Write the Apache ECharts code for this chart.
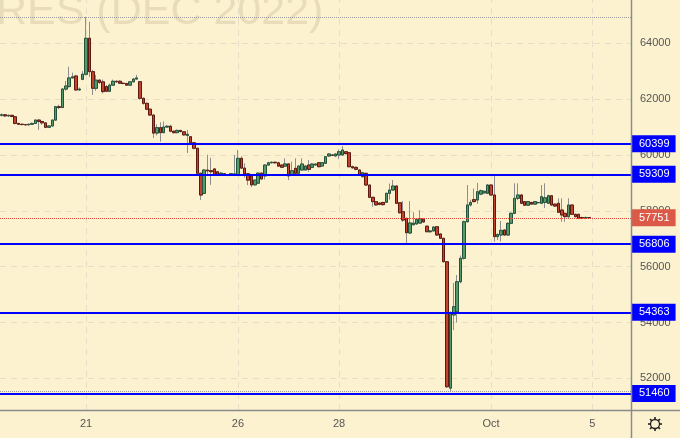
<!DOCTYPE html>
<html><head><meta charset="utf-8">
<script src="https://cdn.jsdelivr.net/npm/echarts@6/dist/echarts.min.js"></script>
<style>html,body{margin:0;padding:0;background:#fdf2d0}#c{width:680px;height:438px}</style>
</head><body><div id="c"></div>
<script>
// ---- data ----
const categoryCount = 187;
const dayLabelIndex = [25, 70, 100, 145, 175];
const dayLabelText = ['21', '26', '28', 'Oct', '5'];
const yTicks = [52000, 54000, 56000, 58000, 60000, 62000, 64000];
const yRange = [50866, 65551];
const levels = [60399, 59309, 56806, 54363, 51460];
const watermark = 'RES (DEC 2022)';

const opens = [61420,61440,61400,61420,61370,61130,61100,61090,61080,61100,61130,61250,61200,61150,60990,61040,61250,61730,61700,62360,
62450,62760,62830,62330,62710,62890,64180,62985,62390,62680,62620,62450,62280,62500,62640,62640,62570,62560,62500,62620,
62720,62625,62030,61850,61640,61430,60785,60980,60800,61000,61030,60850,60800,60880,60830,60700,60655,60440,60240,59345,
58625,59460,59440,59500,59400,59320,59330,59290,59270,59310,59290,59880,59530,59330,59250,58930,58990,59350,59250,59640,
59720,59740,59720,59640,59600,59680,59283,59522,59343,59462,59462,59640,59558,59640,59723,59605,59702,59963,60000,59963,
59999,59999,60117,60081,59580,59558,59462,59222,59343,58924,58484,58326,58280,58300,58305,58627,58745,58889,58290,57968,
57731,57205,57500,57530,57560,57700,57450,57250,57280,57430,57170,57015,56177,51650,54270,54385,55460,56300,57610,58210,
58400,58387,58600,58640,58627,58924,58567,57075,57133,57313,57133,57552,57910,58448,58567,58330,58200,58300,58240,58290,
58269,58300,58269,58541,58240,58269,58029,57910,57789,58208,57875,57875,57760,57740,57760];
const closes = [61440,61400,61420,61380,61130,61100,61090,61080,61100,61130,61250,61200,61150,60990,61040,61250,61730,61700,62360,62470,
62760,62800,62330,62360,62890,64180,62985,62390,62680,62600,62270,62280,62500,62640,62620,62570,62560,62500,62620,62720,
62760,62030,61850,61640,61430,60785,60980,60800,61000,61030,60850,60800,60880,60840,60720,60740,60440,60240,59345,58565,
59460,59430,59400,59290,59290,59350,59270,59270,59330,59320,59880,59530,59330,59100,58930,59100,59350,59140,59640,59720,
59740,59720,59600,59560,59680,59250,59437,59343,59605,59677,59605,59487,59677,59677,59580,59723,59938,60035,59990,60035,
60117,60178,60050,59580,59540,59487,59283,59365,58924,58484,58330,58212,58230,58220,58627,58745,58889,58269,57932,57670,
57216,57565,57560,57700,57720,57600,57252,57280,57420,57133,57015,56177,51700,54330,54565,55460,56300,57610,58210,58300,
58330,58684,58720,58700,58924,58567,57075,57150,57300,57133,57552,57910,58448,58567,58269,58200,58330,58240,58330,58300,
58505,58470,58541,58208,58170,57946,57850,57790,58208,57875,57790,57731,57740,57760,57751];
const lows = [61380,61370,61360,61350,61100,61070,61060,61050,61060,61080,61110,60900,61080,60960,60970,61010,61230,61640,61680,62300,
62420,62740,62300,62300,62680,62850,62800,62150,62300,62540,62200,62250,62250,62470,62590,62540,62530,62470,62480,62600,
62690,61980,61800,61600,61400,60610,60700,60475,60780,60980,60820,60770,60780,60800,60690,60070,60400,60200,59300,58390,
58600,59300,58930,59260,59260,59300,59250,59240,59250,59290,59270,59500,59190,58920,58850,58910,58970,59120,59120,59620,
59700,59690,59580,59540,59580,59100,59260,59320,59320,59440,59440,59400,59540,59620,59560,59590,59690,59940,59970,59940,
59850,59980,60020,59560,59500,59450,59260,59200,58900,58450,58147,58180,58200,58190,58290,58400,58720,58240,57900,57600,
56836,57170,57480,57500,57540,57580,57230,57220,57260,57110,56990,56150,51650,51547,53730,54000,55400,56250,57580,58150,
58300,58250,58560,58620,58600,58540,56894,56950,56900,57100,57100,57520,57880,58380,58240,58170,58180,58210,58220,58260,
58240,58100,58250,58180,58150,57920,57610,57610,57760,57850,57760,57700,57720,57720,57730];
const highs = [61490,61470,61450,61440,61400,61150,61120,61110,61130,61160,61280,61290,61220,61170,61060,61270,61760,61800,62400,62650,
63160,62950,62870,62420,63000,64950,64775,63050,62870,62720,62700,62500,62560,62700,62670,62680,62600,62590,62650,62760,
62870,62650,62060,61880,61660,61450,61100,61170,61200,61060,61080,60880,60910,60900,60860,60895,60680,60460,60260,59360,
59500,60010,59900,59520,59420,59380,59350,59310,59350,60000,60180,59950,59700,59350,59270,59120,59380,59370,59660,59760,
59770,59760,59760,59660,59880,59700,59760,59880,59630,59880,59630,59820,59700,59700,59740,59740,59960,60060,60020,60060,
60200,60321,60140,60100,59620,59580,59480,59400,59360,58940,58500,58340,58300,58320,58650,58980,59103,58900,58310,58350,
57750,58350,57950,57720,58020,57720,57470,57300,57440,57450,57190,57030,56200,54400,55415,55700,56400,57650,58924,58400,
58800,59000,58760,58720,58960,58950,59309,57200,57640,57340,57580,57940,58985,58985,58600,58350,58350,58320,58350,58320,
58924,58985,58580,58560,58260,58448,58448,57930,58448,58230,57900,57890,57790,57800,57770];

// ---- build ----
const categories = [];
for (let i = 0; i < categoryCount; i++) {
  const k = dayLabelIndex.indexOf(i);
  categories.push(k >= 0 ? dayLabelText[k] : '');
}
const candleData = opens.map((o, i) => [o, closes[i], lows[i], highs[i]]);
const bodyData = opens.map((o, i) => [o, closes[i], Math.min(o, closes[i]), Math.max(o, closes[i])]);
const lastClose = closes[closes.length - 1];
const hiVal = Math.max(...highs), loVal = Math.min(...lows);

const FONT = 'Liberation Sans, Arial, sans-serif';
const BLUE = '#0000ff';
const tagLabel = (bg) => ({
  show: true, position: 'end', distance: 0, formatter: p => String(p.value),
  color: '#fff', backgroundColor: bg, padding: [3, 6, 2, 8], fontSize: 11, lineHeight: 12, fontFamily: FONT
});

const chart = echarts.init(document.getElementById('c'), null, {renderer: 'canvas'});
const gear = [];
for (let k = 0; k < 8; k++) {
  const a = k * Math.PI / 4;
  gear.push({type: 'line', shape: {x1: 655 + Math.cos(a) * 4.5, y1: 424 + Math.sin(a) * 4.5, x2: 655 + Math.cos(a) * 7, y2: 424 + Math.sin(a) * 7},
    style: {stroke: '#222', lineWidth: 1.6}, silent: true, z: 50});
}
chart.setOption({
  animation: false,
  backgroundColor: '#fdf2d0',
  textStyle: {fontFamily: FONT},
  grid: {left: 0, right: 49, top: 0, bottom: 28, outerBoundsMode: 'none'},
  xAxis: {
    type: 'category', data: categories, boundaryGap: true,
    axisLine: {show: false}, axisTick: {show: false}, splitLine: {show: false},
    axisLabel: {interval: 0, color: '#555', fontSize: 11, margin: 8, fontFamily: FONT}
  },
  yAxis: {
    type: 'value', position: 'right', min: yRange[0], max: yRange[1], scale: true,
    axisLine: {show: false}, axisTick: {show: false}, splitLine: {show: false},
    axisLabel: {customValues: yTicks, formatter: v => String(v), color: '#555', fontSize: 11, margin: 9, align: 'left', fontFamily: FONT}
  },
  graphic: [
    {type: 'text', left: -4, top: -9, z: 0, silent: true,
      style: {text: watermark, font: '43px ' + FONT, fill: '#e9dcba'}},
    {type: 'line', shape: {x1: 631.5, y1: 0, x2: 631.5, y2: 438}, style: {stroke: '#8a8a8a', lineWidth: 1.5}, z: 50, silent: true},
    {type: 'line', shape: {x1: 0, y1: 410.5, x2: 680, y2: 410.5}, style: {stroke: '#8a8a8a', lineWidth: 1.5}, z: 50, silent: true},
    {type: 'circle', shape: {cx: 655, cy: 424, r: 4.5}, style: {stroke: '#222', fill: 'none', lineWidth: 1.3}, z: 50, silent: true},
    ...gear
  ],
  series: [
    {
      type: 'line', data: closes, symbol: 'none', silent: true, lineStyle: {opacity: 0}, z: 1,
      markLine: {
        silent: true, symbol: ['none', 'none'], z: 1, label: {show: false},
        lineStyle: {color: '#e6dfc8', type: [6, 5], width: 1},
        data: [...yTicks.map(v => ({yAxis: v})), ...dayLabelIndex.map(i => ({xAxis: i}))]
      }
    },
    {
      type: 'candlestick', data: candleData, barWidth: 3, z: 2, silent: true,
      itemStyle: {color: 'rgba(0,0,0,0)', color0: 'rgba(0,0,0,0)', borderColor: '#8e8e8e', borderColor0: '#8e8e8e', borderWidth: 1}
    },
    {
      type: 'candlestick', data: bodyData, barWidth: 3, z: 3, silent: true,
      itemStyle: {color: '#559a6b', color0: '#c4432f', borderColor: '#25523a', borderColor0: '#5e1a10', borderWidth: 1}
    },
    {
      type: 'line', data: closes, symbol: 'none', silent: true, lineStyle: {opacity: 0}, z: 6,
      markLine: {
        silent: true, symbol: ['none', 'none'], z: 6,
        data: [
          {yAxis: hiVal, lineStyle: {color: '#9a9a9a', type: 'dotted', width: 1}, label: {show: false}},
          {yAxis: loVal, lineStyle: {color: '#9a9a9a', type: 'dotted', width: 1}, label: {show: false}},
          {yAxis: lastClose, lineStyle: {color: '#e0463a', type: 'dotted', width: 1}, label: tagLabel('#dc5847')},
          ...levels.map(v => ({yAxis: v, lineStyle: {color: BLUE, type: 'solid', width: 2}, label: tagLabel(BLUE)}))
        ]
      }
    }
  ]
});
</script></body></html>
